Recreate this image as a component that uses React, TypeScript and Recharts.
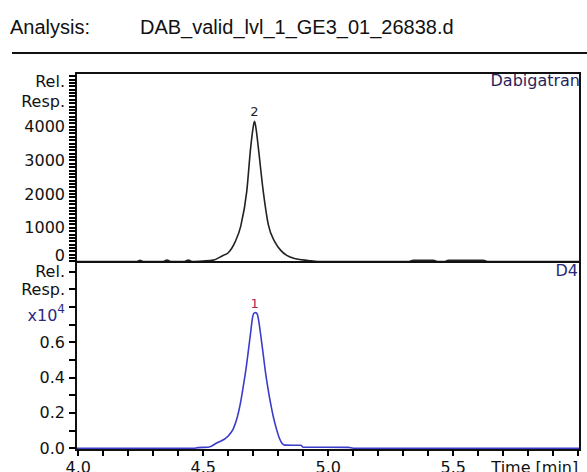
import React from 'react';
import { LineChart, Line, XAxis, YAxis, ReferenceDot } from 'recharts';

// header + trace names
const headerLabel = 'Analysis:';
const fileName = 'DAB_valid_lvl_1_GE3_01_26838.d';
const traceNames = ['Dabigatran', 'D4'];

// upper trace (Dabigatran), response in counts
const dabTime = [
  3.991, 4.2, 4.235, 4.247, 4.26, 4.34, 4.355, 4.37, 4.425, 4.44, 4.455, 4.5, 4.54, 4.579, 4.6,
  4.627, 4.65, 4.674, 4.69, 4.698, 4.705, 4.712, 4.72, 4.74, 4.76, 4.787, 4.81, 4.834, 4.87,
  4.92, 4.96, 5.32, 5.34, 5.42, 5.44, 5.465, 5.48, 5.62, 5.64, 6.007,
];
const dabResp = [
  0, 0, 0, 35, 0, 0, 40, 0, 0, 40, 0, 15, 40, 180, 260,
  575, 1050, 2080, 3400, 3900, 4160, 3900, 3400, 2080, 1100, 575, 330, 180, 80,
  30, 0, 0, 35, 35, 0, 0, 35, 35, 0, 0,
];

// lower trace (D4), response x10^4
const d4Time = [
  3.991, 4.46, 4.48, 4.52, 4.554, 4.6, 4.62, 4.635, 4.648, 4.66, 4.672, 4.682, 4.69, 4.696,
  4.703, 4.71, 4.716, 4.722, 4.73, 4.74, 4.75, 4.76, 4.77, 4.78, 4.794, 4.805, 4.815, 4.825,
  4.89, 4.9, 5.08, 5.1, 6.007,
];
const d4Resp = [
  0, 0, 0.004, 0.006, 0.03, 0.07, 0.11, 0.17, 0.25, 0.35, 0.46, 0.57, 0.66, 0.73,
  0.765, 0.768, 0.76, 0.72, 0.64, 0.53, 0.42, 0.33, 0.25, 0.18, 0.104, 0.055, 0.028, 0.018,
  0.017, 0.006, 0.005, 0, 0,
];

// peak annotations
const peakNumbers = ['2', '1'];
const peakTimes = [4.705, 4.706];
const peakHeights = [4160, 0.768];

// axes
const timeDomain = [3.991, 6.007];
const timeLabelValues = ['4.0', '4.5', '5.0', '5.5'];
const timeTitle = 'Time [min]';
const dabDomain = [-45, 5595];
const dabLabelValues = [0, 1000, 2000, 3000, 4000];
const d4Domain = [-0.0097, 1.052];
const d4LabelValues = ['0.0', '0.2', '0.4', '0.6'];

const timeTicks = Array.from({ length: 21 }, (_, i) => (40 + i) / 10);
const dabTicks = Array.from({ length: 56 }, (_, i) => i * 100);
const d4Ticks = Array.from({ length: 11 }, (_, i) => i / 10);

const dabData = dabTime.map((t, i) => ({ t, v: dabResp[i] }));
const d4Data = d4Time.map((t, i) => ({ t, v: d4Resp[i] }));

// plot boxes (pixels) shared by charts, frames and tick marks
const plotLeft = 76;
const plotRight = 580;
const dabTop = 73;
const dabBottom = 263;
const d4Top = 262.5;
const d4Bottom = 450;

const timeToX = (t: number) => plotLeft + ((t - timeDomain[0]) / (timeDomain[1] - timeDomain[0])) * (plotRight - plotLeft);
const dabToY = (v: number) => dabBottom - ((v - dabDomain[0]) / (dabDomain[1] - dabDomain[0])) * (dabBottom - dabTop);
const d4ToY = (v: number) => d4Bottom - ((v - d4Domain[0]) / (d4Domain[1] - d4Domain[0])) * (d4Bottom - d4Top);

const ink = '#111111';
const tickFont = { fontFamily: 'DejaVu Sans', fontSize: 16, fill: ink };

function DabYTick(props: any) {
  const { x, y, payload } = props;
  const v = payload.value;
  let label = '';
  let dy = 0;
  if (dabLabelValues.includes(v)) label = String(v);
  if (v === 0) dy = -6;
  if (v === 4800) { label = 'Resp.'; dy = 2; }
  if (v === 5400) { label = 'Rel.'; dy = 2; }
  if (!label) return <g />;
  return (
    <text x={x} y={y + dy} textAnchor="end" dominantBaseline="central" {...tickFont}>
      {label}
    </text>
  );
}

function D4YTick(props: any) {
  const { x, y, payload } = props;
  const key = payload.value.toFixed(1);
  if (d4LabelValues.includes(key)) {
    return <text x={x} y={y} textAnchor="end" dominantBaseline="central" {...tickFont}>{key}</text>;
  }
  if (key === '1.0') {
    return <text x={x} y={y} textAnchor="end" dominantBaseline="central" {...tickFont}>Rel.</text>;
  }
  if (key === '0.9') {
    return <text x={x} y={y} textAnchor="end" dominantBaseline="central" {...tickFont}>Resp.</text>;
  }
  if (key === '0.8') {
    return (
      <text x={x} y={y + 14} textAnchor="end" {...tickFont} fill="#2a2a80">
        x10<tspan dy={-8} fontSize={12}>4</tspan>
      </text>
    );
  }
  return <g />;
}

function TimeTick(props: any) {
  const { x, y, payload } = props;
  const key = payload.value.toFixed(1);
  if (timeLabelValues.includes(key)) {
    return <text x={x} y={y} dy="0.72em" textAnchor="middle" {...tickFont}>{key}</text>;
  }
  if (key === '6.0') {
    return <text x={x} y={y} dy="0.72em" textAnchor="end" {...tickFont}>{timeTitle}</text>;
  }
  return <g />;
}

export default function App() {
  const mark = { position: 'absolute' as const, background: '#000' };
  return (
    <div style={{ position: 'absolute', left: 0, top: 0, width: 587, height: 472, background: '#fff', overflow: 'hidden' }}>
      <div style={{ position: 'absolute', left: 10, top: 15, fontFamily: 'Liberation Sans', fontSize: 20, lineHeight: '24px', color: '#111' }}>
        {headerLabel}
      </div>
      <div style={{ position: 'absolute', left: 140, top: 15, fontFamily: 'Liberation Sans', fontSize: 20, lineHeight: '24px', color: '#111' }}>
        {fileName}
      </div>
      <div style={{ position: 'absolute', left: 12, top: 52, width: 575, height: 2, background: '#111' }} />

      <div style={{ position: 'absolute', left: 0, top: 0 }}>
        <LineChart width={587} height={dabBottom} data={dabData} margin={{ top: dabTop, right: 587 - plotRight, left: 0, bottom: 0 }}>
          <XAxis dataKey="t" type="number" domain={timeDomain} allowDataOverflow hide />
          <YAxis
            type="number"
            domain={dabDomain}
            allowDataOverflow
            ticks={dabTicks}
            interval={0}
            width={plotLeft}
            axisLine={false}
            tickLine={false}
            tickSize={7}
            tickMargin={4}
            tick={DabYTick}
          />
          <Line type="monotone" dataKey="v" stroke="#222" strokeWidth={1.6} dot={false} isAnimationActive={false} />
          <ReferenceDot
            x={peakTimes[0]}
            y={peakHeights[0]}
            r={0}
            fill="none"
            stroke="none"
            label={{ value: peakNumbers[0], position: 'top', offset: 5, fill: '#222', fontSize: 13, fontFamily: 'DejaVu Sans' }}
          />
        </LineChart>
      </div>

      <div style={{ position: 'absolute', left: 0, top: 0 }}>
        <LineChart width={587} height={472} data={d4Data} margin={{ top: d4Top, right: 587 - plotRight, left: 0, bottom: 0 }}>
          <XAxis
            dataKey="t"
            type="number"
            domain={timeDomain}
            allowDataOverflow
            ticks={timeTicks}
            interval={0}
            height={472 - d4Bottom}
            axisLine={false}
            tickLine={false}
            tickSize={5}
            tickMargin={6}
            tick={TimeTick}
          />
          <YAxis
            type="number"
            domain={d4Domain}
            allowDataOverflow
            ticks={d4Ticks}
            interval={0}
            width={plotLeft}
            axisLine={false}
            tickLine={false}
            tickSize={7}
            tickMargin={4}
            tick={D4YTick}
          />
          <Line type="monotone" dataKey="v" stroke="#3c3ccc" strokeWidth={1.6} dot={false} isAnimationActive={false} />
          <ReferenceDot
            x={peakTimes[1]}
            y={peakHeights[1]}
            r={0}
            fill="none"
            stroke="none"
            label={{ value: peakNumbers[1], position: 'top', offset: 5, fill: '#b0245a', fontSize: 13, fontFamily: 'DejaVu Sans' }}
          />
        </LineChart>
      </div>

      {/* plot frames */}
      <div style={{ position: 'absolute', left: plotLeft - 1, top: dabTop - 1, width: plotRight - plotLeft + 2, height: dabBottom - dabTop + 0.5, border: '2px solid #111', boxSizing: 'border-box' }} />
      <div style={{ position: 'absolute', left: plotLeft - 1, top: d4Top - 0.5, width: plotRight - plotLeft + 2, height: d4Bottom - d4Top + 1.5, borderLeft: '2px solid #111', borderRight: '2px solid #111', borderBottom: '2px solid #111', boxSizing: 'border-box' }} />

      {/* tick marks */}
      {dabTicks.map((v) => (
        <div key={`dy${v}`} style={{ ...mark, left: plotLeft - 7, width: 7, top: dabToY(v) - 1, height: 2 }} />
      ))}
      {d4Ticks.map((v) => (
        <div key={`qy${v}`} style={{ ...mark, left: plotLeft - 7, width: 7, top: d4ToY(v) - 1, height: 2 }} />
      ))}
      {timeTicks.map((t) => (
        <div key={`tx${t}`} style={{ ...mark, left: timeToX(t) - 1, width: 2, top: d4Bottom, height: 6 }} />
      ))}

      <div style={{ position: 'absolute', right: 7, top: 73, fontFamily: 'DejaVu Sans', fontSize: 16, lineHeight: '16px', color: '#2a1f5a' }}>
        {traceNames[0]}
      </div>
      <div style={{ position: 'absolute', right: 9, top: 263, fontFamily: 'DejaVu Sans', fontSize: 16, lineHeight: '16px', color: '#2a2a7a' }}>
        {traceNames[1]}
      </div>
    </div>
  );
}
